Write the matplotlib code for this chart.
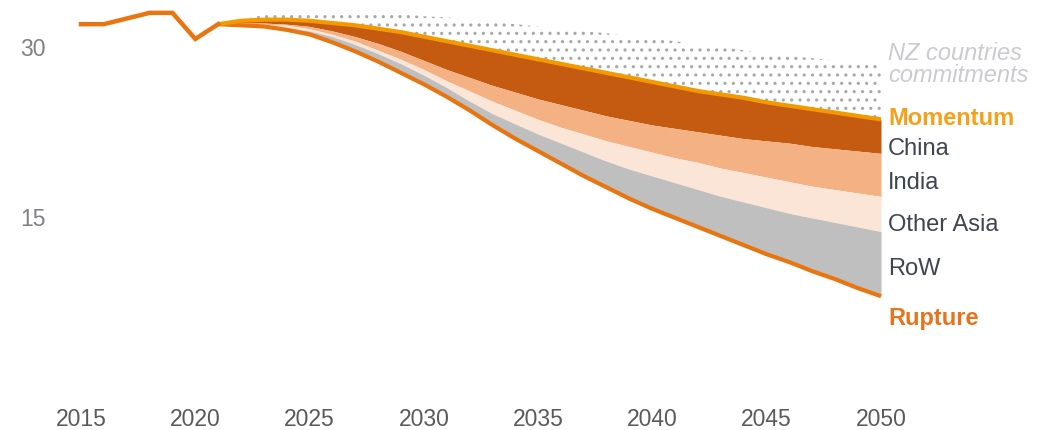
import matplotlib
matplotlib.use("Agg")
import matplotlib.pyplot as plt
import numpy as np

# ---- data ----
hist_years = [2015, 2016, 2017, 2018, 2019, 2020, 2021]
hist_vals = [31.9, 31.9, 32.4, 32.9, 32.9, 30.6, 31.9]

proj_years = list(range(2021, 2051))
momentum = [31.9, 32.2, 32.3, 32.3, 32.2, 32.0, 31.8, 31.5, 31.2, 30.8,
            30.4, 30.0, 29.6, 29.2, 28.8, 28.4, 28.0, 27.6, 27.2, 26.8,
            26.4, 26.0, 25.7, 25.4, 25.0, 24.7, 24.4, 24.1, 23.8, 23.5]
china_bottom = [31.9, 32.0, 32.0, 31.9, 31.7, 31.3, 30.8, 30.2, 29.5, 28.7,
                27.9, 27.2, 26.5, 25.9, 25.3, 24.8, 24.3, 23.8, 23.4, 23.0,
                22.7, 22.4, 22.1, 21.8, 21.6, 21.4, 21.1, 20.9, 20.7, 20.5]
india_bottom = [31.9, 31.9, 31.9, 31.8, 31.5, 31.0, 30.4, 29.6, 28.8, 27.9,
                26.9, 26.0, 25.1, 24.3, 23.5, 22.8, 22.2, 21.6, 21.1, 20.6,
                20.1, 19.7, 19.2, 18.8, 18.4, 18.0, 17.6, 17.3, 17.0, 16.7]
other_asia_bottom = [31.9, 31.9, 31.8, 31.6, 31.3, 30.8, 30.1, 29.3, 28.4, 27.4,
                     26.3, 25.1, 24.0, 23.1, 22.2, 21.4, 20.6, 19.8, 19.1, 18.5,
                     17.9, 17.3, 16.7, 16.2, 15.7, 15.2, 14.8, 14.4, 14.0, 13.6]
rupture = [31.9, 31.8, 31.7, 31.4, 31.0, 30.3, 29.5, 28.6, 27.6, 26.6,
           25.5, 24.3, 23.0, 21.8, 20.7, 19.6, 18.5, 17.5, 16.5, 15.6,
           14.8, 14.0, 13.2, 12.4, 11.6, 10.9, 10.1, 9.4, 8.6, 7.9]
nz_commitments = [31.9, 32.3, 32.7, 32.9, 33.0, 33.0, 32.9, 32.9, 32.8, 32.6,
                  32.5, 32.3, 32.1, 31.9, 31.7, 31.5, 31.3, 31.1, 30.8, 30.6,
                  30.4, 30.1, 29.9, 29.6, 29.3, 29.1, 28.9, 28.7, 28.5, 28.4]

x_ticks = [2015, 2020, 2025, 2030, 2035, 2040, 2045, 2050]
y_ticks = [15, 30]

labels = [
    ("NZ countries\ncommitments", 28.4),
    ("Momentum", 23.7),
    ("China", 21.0),
    ("India", 18.0),
    ("Other Asia", 14.3),
    ("RoW", 10.4),
    ("Rupture", 6.0),
]

# ---- styling ----
C_HIST = "#E8750F"
C_MOM = "#F39A00"
C_CHINA = "#C55A11"
C_INDIA = "#F4B183"
C_OASIA = "#FBE5D6"
C_ROW = "#BFBFBF"
label_colors = ["#C9CBD0", "#F5A01A", "#3F4550", "#3F4550", "#3F4550", "#3F4550", "#E8731A"]

plt.rcParams["hatch.linewidth"] = 1.1
fig = plt.figure(figsize=(10.53, 4.31), dpi=100)
W, H = 1053, 431
xmin, xmax = 2014.5, 2050.5
ppy = 22.857
left_px = 81 - (2015 - xmin) * ppy
right_px = 881 + (xmax - 2050) * ppy
ymin, ymax = 0, 34
ppv = 11.333
bot_px = 386.7
top_px = bot_px - (ymax - ymin) * ppv
ax = fig.add_axes([left_px / W, (H - bot_px) / H, (right_px - left_px) / W, (bot_px - top_px) / H])
ax.set_xlim(xmin, xmax)
ax.set_ylim(ymin, ymax)

py = np.array(proj_years)
ax.fill_between(py, momentum, nz_commitments, facecolor="none", edgecolor="#a8a8a8",
                hatch="..", linewidth=0, zorder=1)
ax.fill_between(py, china_bottom, momentum, color=C_CHINA, lw=0, zorder=2)
ax.fill_between(py, india_bottom, china_bottom, color=C_INDIA, lw=0, zorder=2)
ax.fill_between(py, other_asia_bottom, india_bottom, color=C_OASIA, lw=0, zorder=2)
ax.fill_between(py, rupture, other_asia_bottom, color=C_ROW, lw=0, zorder=2)

ax.plot(py, rupture, color=C_HIST, lw=3.0, solid_capstyle="butt", zorder=3)
ax.plot(py, momentum, color=C_MOM, lw=3.0, solid_capstyle="butt", zorder=4)
ax.plot(hist_years, hist_vals, color=C_HIST, lw=3.2, solid_joinstyle="miter", zorder=5)

for s in ax.spines.values():
    s.set_visible(False)
ax.set_xticks(x_ticks)
ax.set_xticklabels([str(t) for t in x_ticks])
ax.set_yticks(y_ticks)
ax.set_yticklabels([str(t) for t in y_ticks])
ax.tick_params(axis="both", length=0)
ax.tick_params(axis="x", pad=15, labelsize=16.5, labelcolor="#5a5a5a")
ax.tick_params(axis="y", pad=17, labelsize=16.5, labelcolor="#7f8088")
for lab in ax.get_xticklabels() + ax.get_yticklabels():
    lab.set_fontfamily(["Liberation Sans", "DejaVu Sans"])

lx = 2050 + 7 / ppy
for (txt, yv), col in zip(labels, label_colors):
    kw = dict(fontsize=17, color=col, va="center", ha="left", clip_on=False,
              family=["Liberation Sans", "DejaVu Sans"], linespacing=0.95)
    if txt in ("Momentum", "Rupture"):
        kw["fontweight"] = "bold"
    if txt.startswith("NZ"):
        kw["style"] = "italic"
    ax.text(lx, yv, txt, **kw)

fig.savefig("out.png", dpi=100)
